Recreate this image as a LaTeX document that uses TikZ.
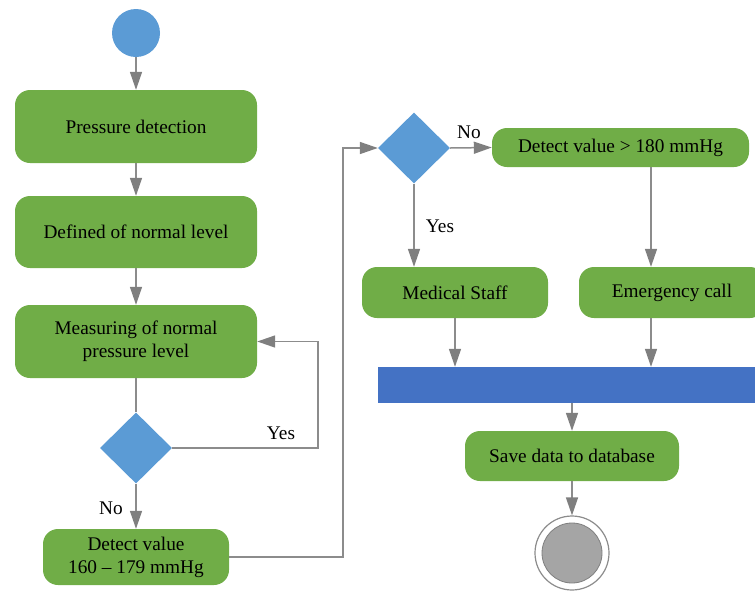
\documentclass[tikz,border=0pt]{standalone}
\usepackage{fontspec}
\setmainfont{Liberation Serif}
\usetikzlibrary{shapes.geometric,arrows.meta}
\definecolor{actgreen}{HTML}{70AD47}
\definecolor{decblue}{HTML}{5B9BD5}
\definecolor{barblue}{HTML}{4472C4}
\definecolor{flowgray}{HTML}{8C8C8C}
\definecolor{headgray}{HTML}{7F7F7F}
\definecolor{endgray}{HTML}{A5A5A5}
\begin{document}
\begin{tikzpicture}[x=1pt,y=-1pt,
  every node/.style={font=\rmfamily\fontsize{19.3}{23}\selectfont},
  action/.style={fill=actgreen, rounded corners=15pt, inner sep=0pt, align=center},
  decision/.style={diamond, fill=decblue, inner sep=0pt, minimum width=72pt, minimum height=71pt},
  flow/.style={draw=flowgray, line width=1.5pt},
  arr/.style={flow, -{Triangle[length=18pt,width=12pt,fill=headgray,color=headgray]}},
  lbl/.style={inner sep=0pt}
]
\clip (0,0) rectangle (755,590);

% initial node
\node[circle, fill=decblue, minimum size=48pt, inner sep=0pt] (start) at (136,33) {};

% left column
\node[action, minimum width=242pt, minimum height=73pt] (pd) at (136,126.5) {Pressure detection};
\node[action, minimum width=242pt, minimum height=72pt] (dn) at (136,232) {Defined of normal level};
\node[action, minimum width=242pt, minimum height=73pt] (mn) at (136,341.5) {Measuring of normal\\pressure level};
\node[decision] (d1) at (136,448) {};
\node[action, minimum width=186pt, minimum height=56pt] (dv) at (136,557) {Detect value\\160 -- 179 mmHg};

% right part
\node[decision] (d2) at (414,148) {};
\node[action, minimum width=257pt, minimum height=39pt] (gt) at (620.5,147.5) {Detect value > 180 mmHg};
\node[action, minimum width=186pt, minimum height=51pt] (ms) at (455,292.5) {Medical Staff};
\node[action, minimum width=186pt, minimum height=51pt] (ec) at (672,292.5) {Emergency call};
\node[fill=barblue, minimum width=422pt, minimum height=36pt, inner sep=0pt] (bar) at (589,385) {};
\node[action, minimum width=214pt, minimum height=50pt] (sv) at (572,456) {Save data to database};

% final node
\node[circle, draw=flowgray, line width=1.2pt, fill=white, minimum size=74pt, inner sep=0pt] (end) at (572,553) {};
\node[circle, draw=headgray, line width=0.8pt, fill=endgray, minimum size=60pt, inner sep=0pt] (endin) at (end.center) {};

% routing points
\coordinate (loopx) at (318,0);
\coordinate (jumpx) at (343,0);
\coordinate (emx) at (651,0);

% connectors
\draw[arr] (start) -- (pd);
\draw[arr] (pd) -- (dn);
\draw[arr] (dn) -- (mn);
\draw[flow] (mn) -- (d1);
\draw[arr] (d1.east) -- (d1.east -| loopx) -- (mn.east -| loopx) -- (mn.east);
\draw[arr] (d1) -- (dv);
\draw[arr] (dv.east) -- (dv.east -| jumpx) -- (d2.west -| jumpx) -- (d2.west);
\draw[arr] (d2.east) -- (gt.west);
\draw[arr] (d2.south) -- (d2.south |- ms.north);
\draw[arr] (gt.south -| emx) -- (ec.north -| emx);
\draw[arr] (ms.south) -- (ms.south |- bar.north);
\draw[arr] (ec.south -| emx) -- (bar.north -| emx);
\draw[arr] (sv.north |- bar.south) -- (sv.north);
\draw[arr] (sv) -- (end);

% guard labels
\node[lbl] (yes1) at (281,433) {Yes};
\node[lbl] (no1) at (111,508) {No};
\node[lbl] (no2) at (469,132) {No};
\node[lbl] (yes2) at (440,226) {Yes};
\end{tikzpicture}
\end{document}
